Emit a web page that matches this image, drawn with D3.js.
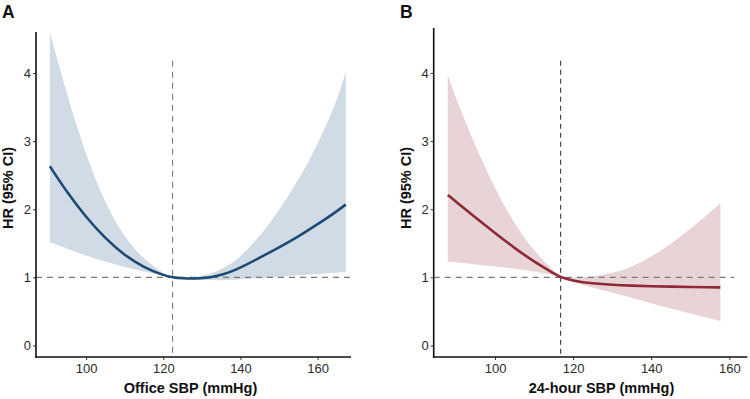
<!DOCTYPE html>
<html><head><meta charset="utf-8">
<script src="https://cdn.jsdelivr.net/npm/d3@7"></script>
<style>body{margin:0;background:#fff}svg{display:block;font-family:"Liberation Sans",Arial,sans-serif}</style>
</head><body><svg id="c" width="750" height="399"></svg>
<script>
// Panel A: Office SBP
const sbpA   = [90.6, 95, 100, 105, 110, 115, 120, 122.4, 125, 128, 131, 134, 137, 140, 145, 150, 155, 160, 165, 167.3];
const hrA    = [2.63, 2.25, 1.88, 1.57, 1.32, 1.145, 1.03, 1.00, 0.985, 0.98, 0.99, 1.02, 1.07, 1.14, 1.29, 1.44, 1.60, 1.78, 1.97, 2.07];
const loA    = [1.52, 1.42, 1.32, 1.23, 1.15, 1.085, 1.025, 1.00, 0.975, 0.965, 0.96, 0.958, 0.96, 0.97, 0.99, 1.01, 1.03, 1.05, 1.07, 1.08];
const hiA    = [4.60, 3.68, 2.78, 2.07, 1.58, 1.26, 1.06, 1.00, 0.995, 1.00, 1.03, 1.09, 1.18, 1.30, 1.60, 1.98, 2.42, 2.95, 3.58, 4.02];
// Panel B: 24-hour SBP
const sbpB   = [87.9, 90, 95, 100, 105, 110, 115, 116.8, 120, 125, 130, 135, 140, 145, 150, 155, 157.7];
const hrB    = [2.21, 2.11, 1.88, 1.65, 1.43, 1.23, 1.06, 1.00, 0.95, 0.91, 0.89, 0.878, 0.87, 0.864, 0.859, 0.855, 0.852];
const loB    = [1.23, 1.22, 1.19, 1.16, 1.13, 1.09, 1.035, 1.00, 0.93, 0.85, 0.78, 0.70, 0.62, 0.54, 0.47, 0.40, 0.36];
const hiB    = [3.97, 3.62, 2.92, 2.30, 1.78, 1.38, 1.10, 1.00, 0.99, 1.01, 1.06, 1.15, 1.30, 1.49, 1.71, 1.95, 2.09];
const yTicks = [0, 1, 2, 3, 4];
const xTicks = [100, 120, 140, 160];
const refA = 122.4, refB = 116.8;

const svg = d3.select("#c");

function panel(o) {
  const g = svg.append("g");
  const x = d3.scaleLinear().domain(o.xdom).range(o.xr);
  const y = d3.scaleLinear().domain([-0.169, 4.602]).range([357, 32]);
  const pts = o.xs.map((v, i) => ({x: v, hr: o.hr[i], lo: o.lo[i], hi: o.hi[i]}));
  g.append("path").datum(pts).attr("fill", o.band)
    .attr("d", d3.area().x(d => x(d.x)).y0(d => y(d.lo)).y1(d => y(d.hi)).curve(d3.curveBasis));
  // reference lines
  g.append("line").attr("x1", o.xr[0]).attr("x2", x(o.hEnd)).attr("y1", y(1)).attr("y2", y(1))
    .attr("stroke", "#7a7a7a").attr("stroke-width", 1.1).attr("stroke-dasharray", "6,5");
  g.append("line").attr("x1", x(o.ref)).attr("x2", x(o.ref)).attr("y1", y(4.18)).attr("y2", 357)
    .attr("stroke", o.vcol).attr("stroke-width", 1.1).attr("stroke-dasharray", o.vdash);
  g.append("path").datum(pts).attr("fill", "none").attr("stroke", o.line).attr("stroke-width", 2.6)
    .attr("d", d3.line().x(d => x(d.x)).y(d => y(d.hr)).curve(d3.curveBasis));
  // axes
  const ya = g.append("g").attr("transform", `translate(${o.xr[0]},0)`)
    .call(d3.axisLeft(y).tickValues(yTicks).tickFormat(d3.format("d")).tickSize(3).tickPadding(2));
  const xa = g.append("g").attr("transform", "translate(0,357)")
    .call(d3.axisBottom(x).tickValues(xTicks).tickSize(3).tickPadding(4));
  [ya, xa].forEach(a => {
    a.select(".domain").remove();
    a.selectAll("text").attr("font-size", 13).attr("fill", "#2b2b2b").attr("font-family", "Liberation Sans, Arial, sans-serif");
    a.selectAll(".tick line").attr("stroke", "#333");
  });
  g.append("line").attr("x1", o.xr[0]).attr("x2", o.xr[0]).attr("y1", o.ytop).attr("y2", 357.8)
    .attr("stroke", "#111").attr("stroke-width", 1.6);
  g.append("line").attr("x1", o.xr[0] - 0.8).attr("x2", o.xr[1]).attr("y1", 357).attr("y2", 357)
    .attr("stroke", "#111").attr("stroke-width", 1.6);
  g.append("text").attr("x", (o.xr[0] + o.xr[1]) / 2 + o.tdx).attr("y", 393).attr("text-anchor", "middle")
    .attr("font-weight", "bold").attr("font-size", 14.5).attr("fill", "#111").text(o.xtitle);
  g.append("text").attr("transform", `translate(${o.ytx},188) rotate(-90)`).attr("text-anchor", "middle")
    .attr("font-weight", "bold").attr("font-size", 14.5).attr("fill", "#111").text("HR (95% CI)");
  g.append("text").attr("x", o.lx).attr("y", 17.5).attr("font-weight", "bold").attr("font-size", 17.5)
    .attr("fill", "#111").text(o.letter);
}

panel({xs: sbpA, hr: hrA, lo: loA, hi: hiA, xdom: [87.0, 168.65], xr: [36, 351], ytop: 32,
  band: "#d1dbe5", line: "#1d4a74", ref: refA, hEnd: 168.5, vcol: "#7a7a7a", vdash: "6,5",
  xtitle: "Office SBP (mmHg)", tdx: -3, ytx: 13, lx: 2, letter: "A"});
panel({xs: sbpB, hr: hrB, lo: loB, hi: hiB, xdom: [84.3, 164.6], xr: [433.7, 747.3], ytop: 28,
  band: "#e8d4d6", line: "#8c2a36", ref: refB, hEnd: 161.2, vcol: "#3a3a3a", vdash: "5,4",
  xtitle: "24-hour SBP (mmHg)", tdx: 11, ytx: 411, lx: 400, letter: "B"});
</script></body></html>
